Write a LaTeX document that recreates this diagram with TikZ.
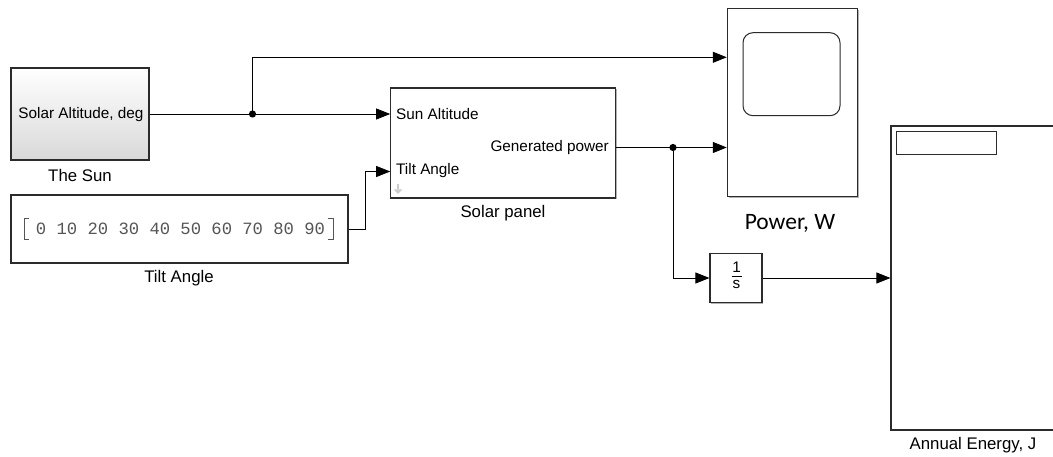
\documentclass[tikz,border=0pt]{standalone}
\usepackage{fontspec}
\setmainfont{Liberation Sans}
\newfontfamily\calibfont{Carlito}
\newfontfamily\monofont{Liberation Mono}
\usetikzlibrary{arrows.meta,shadows,calc}
\definecolor{bord}{HTML}{2B2B2B}
\definecolor{monogray}{HTML}{555555}
\tikzset{
  blk/.style={draw=bord, line width=1.1pt, fill=white, inner sep=0pt,
    drop shadow={shadow xshift=1.3pt, shadow yshift=-1.3pt, opacity=0.3, fill=black}},
  conn/.style={draw=black, line width=0.8pt, -{Triangle[length=14pt,width=11pt]}},
  intxt/.style={inner sep=0pt, font=\fontsize{15.3}{18}\selectfont},
  lbl/.style={inner sep=0pt, font=\fontsize{16.8}{20}\selectfont},
  jdot/.style={fill=black},
}
\begin{document}
\begin{tikzpicture}[x=1pt,y=-1pt]
\useasboundingbox (0,0) rectangle (1053,457);
\clip (0,0) rectangle (1053,457);

% ---- The Sun block
\node[blk, top color=white, bottom color=gray!30, minimum width=138pt, minimum height=92pt] (sun) at (80,114) {};
\node[intxt] (suntxt) at (81,115) {Solar Altitude, deg};
\node[lbl] (sunlbl) at (80,175) {The Sun};

% ---- Constant block
\node[blk, minimum width=337pt, minimum height=68pt] (const) at (179.5,229) {};
\node[inner sep=0pt, text=monogray, font=\monofont\fontsize{17.2}{20}\selectfont] (consttxt) at (180.5,229) {0 10 20 30 40 50 60 70 80 90};
\draw[monogray, line width=0.9pt] (29,218) -- (24,218) -- (24,239) -- (29,239);
\draw[monogray, line width=0.9pt] (328,218) -- (333,218) -- (333,239) -- (328,239);
\node[lbl] (constlbl) at (179,278) {Tilt Angle};

% ---- Solar panel block
\node[blk, minimum width=225pt, minimum height=110pt] (panel) at (503.2,143) {};
\node[intxt, anchor=west] (p1txt) at (396,114) {Sun Altitude};
\node[intxt, anchor=west] (p2txt) at (396,171) {Tilt Angle};
\node[intxt, anchor=east] (potxt) at (609,147.5) {Generated power};
\node[lbl] (panellbl) at (503,213) {Solar panel};
\fill[gray!40] (396.6,184.5) rectangle (399.4,189.5);
\fill[gray!40] (393.8,189.5) -- (402.2,189.5) -- (398,194) -- cycle;

% ---- Integrator
\node[blk, minimum width=52pt, minimum height=49pt] (integ) at (736,278) {};
\node[intxt, anchor=base] (num) at (736.5,272.5) {1};
\node[intxt, anchor=base] (den) at (736.5,288.5) {s};
\draw[black, line width=0.8pt] (731.5,276.5) -- (741.5,276.5);

% ---- Scope
\node[blk, minimum width=130pt, minimum height=188pt] (scope) at (792.3,102.5) {};
\node[draw=bord, line width=1pt, rounded corners=10pt, minimum width=97pt, minimum height=83pt, inner sep=0pt] (screen) at (791.5,74.2) {};
\node[inner sep=0pt, font=\calibfont\fontsize{23.5}{26}\selectfont] (scopelbl) at (790,223) {Power, W};

% ---- Display
\node[blk, minimum width=190pt, minimum height=304pt] (disp) at (986,278) {};
\node[draw=bord, line width=0.9pt, minimum width=99.6pt, minimum height=22.6pt, inner sep=0pt] (dispbox) at (946.5,143) {};
\node[lbl] (displbl) at (973,445) {Annual Energy, J};

% ---- ports and junctions
\coordinate (pin1) at (panel.west |- 0,114);
\coordinate (pin2) at (panel.west |- 0,171.5);
\coordinate (pout) at (panel.east |- 0,147.5);
\coordinate (sin1) at (scope.west |- 0,57.3);
\coordinate (sin2) at (scope.west |- 0,147.5);
\coordinate (j1) at (252.5,114);
\coordinate (j2) at (673,147.5);

% ---- connectors
\draw[conn] (sun.east |- pin1) -- (pin1);
\draw[conn] (j1) |- (sin1);
\draw[conn] (const.east) -- ++(16.5,0) |- (pin2);
\draw[conn] (pout) -- (sin2);
\draw[conn] (j2) |- (integ.west);
\draw[conn] (integ.east) -- (disp.west);
\fill[jdot] (j1) circle (3.6pt);
\fill[jdot] (j2) circle (3.6pt);
\end{tikzpicture}
\end{document}
